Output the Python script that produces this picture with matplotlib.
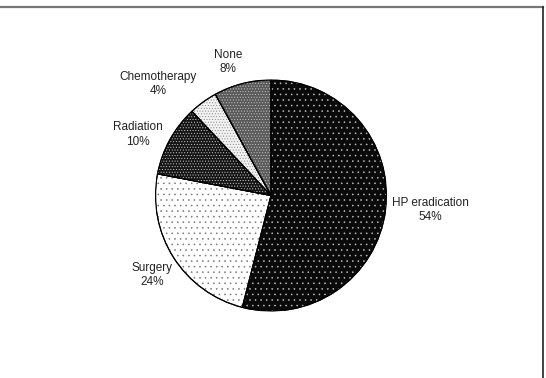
import matplotlib
matplotlib.use("Agg")
import matplotlib.pyplot as plt
from matplotlib.patches import Wedge
from matplotlib.lines import Line2D
import numpy as np

# -----------------------------
# DATA
# -----------------------------
categories = ["HP eradication", "Surgery", "Radiation", "Chemotherapy", "None"]
shares = [54, 24, 10, 4, 8]

# fill / dot pattern per slice (greyscale print look)
face_colors = ["#0a0a0a", "#ffffff", "#151515", "#f2f2f2", "#5a5a5a"]
dot_colors = ["#bbbbbb", "#777777", "#cccccc", "#888888", "#c8c8c8"]
dot_hatch = ["...", "...", "......", "......", "......"]

# label placement relative to each slice (radius factor, angle nudge in deg)
label_dist = [1.385, 1.24, 1.27, 1.375, 1.215]
label_nudge = [2.0, 1.3, 4.2, 9.4, 3.5]

plt.rcParams["font.family"] = ["Liberation Sans", "DejaVu Sans"]
plt.rcParams["hatch.linewidth"] = 0.4

fig = plt.figure(figsize=(5.46, 3.78), dpi=100)
R = 115.5
ax = fig.add_axes([(271 - R) / 546, (182.5 - R) / 378, 2 * R / 546, 2 * R / 378])

wedges, _ = ax.pie(
    shares,
    startangle=90,
    counterclock=False,
    colors=face_colors,
    wedgeprops=dict(edgecolor="black", linewidth=0.8),
)

# dotted texture on top of each slice
for w, hc, h in zip(wedges, dot_colors, dot_hatch):
    ov = Wedge((0, 0), 1, w.theta1, w.theta2, facecolor="none",
               edgecolor=hc, hatch=h, linewidth=0, zorder=w.get_zorder() + 0.1)
    ax.add_patch(ov)
    # redraw outline above the texture
    ol = Wedge((0, 0), 1, w.theta1, w.theta2, facecolor="none",
               edgecolor="black", linewidth=0.8, zorder=w.get_zorder() + 0.2)
    ax.add_patch(ol)

# labels: name + percent, centered outside the slice
for w, name, val, r, nd in zip(wedges, categories, shares, label_dist, label_nudge):
    mid = np.deg2rad((w.theta1 + w.theta2) / 2 + nd)
    ax.text(r * np.cos(mid), r * np.sin(mid), f"{name}\n{val}%",
            ha="center", va="center", fontsize=8.5, linespacing=1.25,
            color="#222222")

ax.set_xlim(-1, 1)
ax.set_ylim(-1, 1)
ax.set_aspect("equal")
ax.axis("off")

# frame lines seen in the original (top and right)
fig.add_artist(Line2D([0, 543 / 546], [1 - 6.5 / 378, 1 - 6.5 / 378],
                      transform=fig.transFigure, color="#777777", linewidth=1.6))
fig.add_artist(Line2D([543 / 546, 543 / 546], [0, 1 - 6.5 / 378],
                      transform=fig.transFigure, color="#222222", linewidth=1.2))

fig.savefig("out.png", dpi=100)
